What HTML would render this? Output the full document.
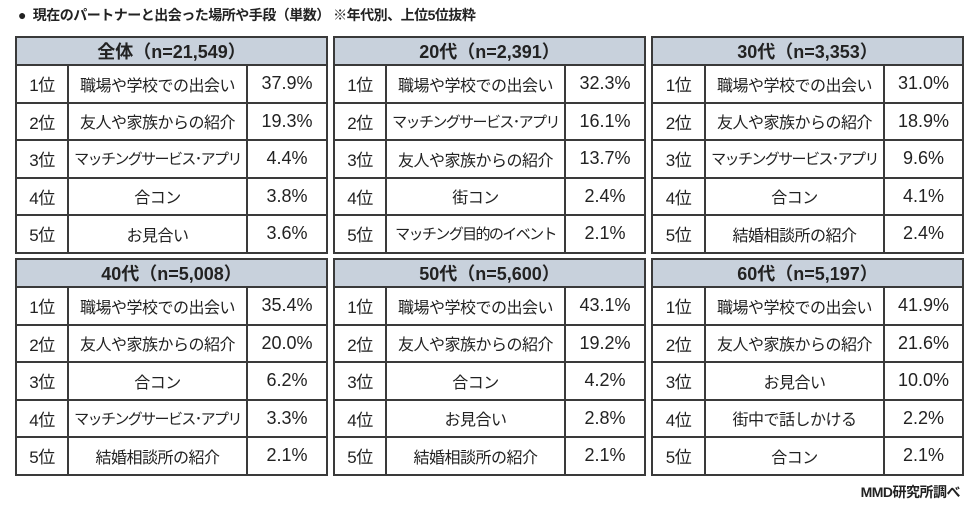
<!DOCTYPE html>
<html><head><meta charset="utf-8"><style>
body{margin:0;width:979px;height:511px;background:#fff;position:relative;overflow:hidden;font-family:"Liberation Sans","Noto Sans CJK JP",sans-serif;color:#222}
.t{position:absolute;width:311px;border-collapse:collapse;table-layout:fixed}
.t td{border:2px solid #3a3a3a;text-align:center;height:35.5px;padding:0;font-size:16px;white-space:nowrap;overflow:hidden;letter-spacing:-0.5px}
.t td.l{font-size:15px;letter-spacing:-1.6px}
.t th{border:2px solid #3a3a3a;background:#c8d1dc;height:26px;font-size:18px;font-weight:bold;padding:0}
.t td.p{font-size:18px;letter-spacing:0}
.t td.r{font-size:17px}
.title{position:absolute;left:18px;top:5px;font-size:14px;font-weight:bold;letter-spacing:-0.5px}
.foot{position:absolute;right:19px;top:482px;font-size:14px;font-weight:bold;letter-spacing:-0.5px}
</style></head><body>
<div class="title">●&nbsp;&nbsp;現在のパートナーと出会った場所や手段（単数）&nbsp;※年代別、上位5位抜粋</div>

<table class="t" style="left:15px;top:36px"><colgroup><col style="width:52px"><col style="width:179px"><col style="width:80px"></colgroup>
<tr><th colspan="3">全体（n=21,549）</th></tr>
<tr><td class="r">1位</td><td>職場や学校での出会い</td><td class="p">37.9%</td></tr>
<tr><td class="r">2位</td><td>友人や家族からの紹介</td><td class="p">19.3%</td></tr>
<tr><td class="r">3位</td><td class="l">マッチングサービス･アプリ</td><td class="p">4.4%</td></tr>
<tr><td class="r">4位</td><td>合コン</td><td class="p">3.8%</td></tr>
<tr><td class="r">5位</td><td>お見合い</td><td class="p">3.6%</td></tr></table>

<table class="t" style="left:333px;top:36px"><colgroup><col style="width:52px"><col style="width:179px"><col style="width:80px"></colgroup>
<tr><th colspan="3">20代（n=2,391）</th></tr>
<tr><td class="r">1位</td><td>職場や学校での出会い</td><td class="p">32.3%</td></tr>
<tr><td class="r">2位</td><td class="l">マッチングサービス･アプリ</td><td class="p">16.1%</td></tr>
<tr><td class="r">3位</td><td>友人や家族からの紹介</td><td class="p">13.7%</td></tr>
<tr><td class="r">4位</td><td>街コン</td><td class="p">2.4%</td></tr>
<tr><td class="r">5位</td><td class="l">マッチング目的のイベント</td><td class="p">2.1%</td></tr></table>

<table class="t" style="left:651px;top:36px"><colgroup><col style="width:53px"><col style="width:179px"><col style="width:79px"></colgroup>
<tr><th colspan="3">30代（n=3,353）</th></tr>
<tr><td class="r">1位</td><td>職場や学校での出会い</td><td class="p">31.0%</td></tr>
<tr><td class="r">2位</td><td>友人や家族からの紹介</td><td class="p">18.9%</td></tr>
<tr><td class="r">3位</td><td class="l">マッチングサービス･アプリ</td><td class="p">9.6%</td></tr>
<tr><td class="r">4位</td><td>合コン</td><td class="p">4.1%</td></tr>
<tr><td class="r">5位</td><td>結婚相談所の紹介</td><td class="p">2.4%</td></tr></table>

<table class="t" style="left:15px;top:258px"><colgroup><col style="width:52px"><col style="width:179px"><col style="width:80px"></colgroup>
<tr><th colspan="3">40代（n=5,008）</th></tr>
<tr><td class="r">1位</td><td>職場や学校での出会い</td><td class="p">35.4%</td></tr>
<tr><td class="r">2位</td><td>友人や家族からの紹介</td><td class="p">20.0%</td></tr>
<tr><td class="r">3位</td><td>合コン</td><td class="p">6.2%</td></tr>
<tr><td class="r">4位</td><td class="l">マッチングサービス･アプリ</td><td class="p">3.3%</td></tr>
<tr><td class="r">5位</td><td>結婚相談所の紹介</td><td class="p">2.1%</td></tr></table>

<table class="t" style="left:333px;top:258px"><colgroup><col style="width:52px"><col style="width:179px"><col style="width:80px"></colgroup>
<tr><th colspan="3">50代（n=5,600）</th></tr>
<tr><td class="r">1位</td><td>職場や学校での出会い</td><td class="p">43.1%</td></tr>
<tr><td class="r">2位</td><td>友人や家族からの紹介</td><td class="p">19.2%</td></tr>
<tr><td class="r">3位</td><td>合コン</td><td class="p">4.2%</td></tr>
<tr><td class="r">4位</td><td>お見合い</td><td class="p">2.8%</td></tr>
<tr><td class="r">5位</td><td>結婚相談所の紹介</td><td class="p">2.1%</td></tr></table>

<table class="t" style="left:651px;top:258px"><colgroup><col style="width:53px"><col style="width:179px"><col style="width:79px"></colgroup>
<tr><th colspan="3">60代（n=5,197）</th></tr>
<tr><td class="r">1位</td><td>職場や学校での出会い</td><td class="p">41.9%</td></tr>
<tr><td class="r">2位</td><td>友人や家族からの紹介</td><td class="p">21.6%</td></tr>
<tr><td class="r">3位</td><td>お見合い</td><td class="p">10.0%</td></tr>
<tr><td class="r">4位</td><td>街中で話しかける</td><td class="p">2.2%</td></tr>
<tr><td class="r">5位</td><td>合コン</td><td class="p">2.1%</td></tr></table>

<div class="foot">MMD研究所調べ</div>
</body></html>
